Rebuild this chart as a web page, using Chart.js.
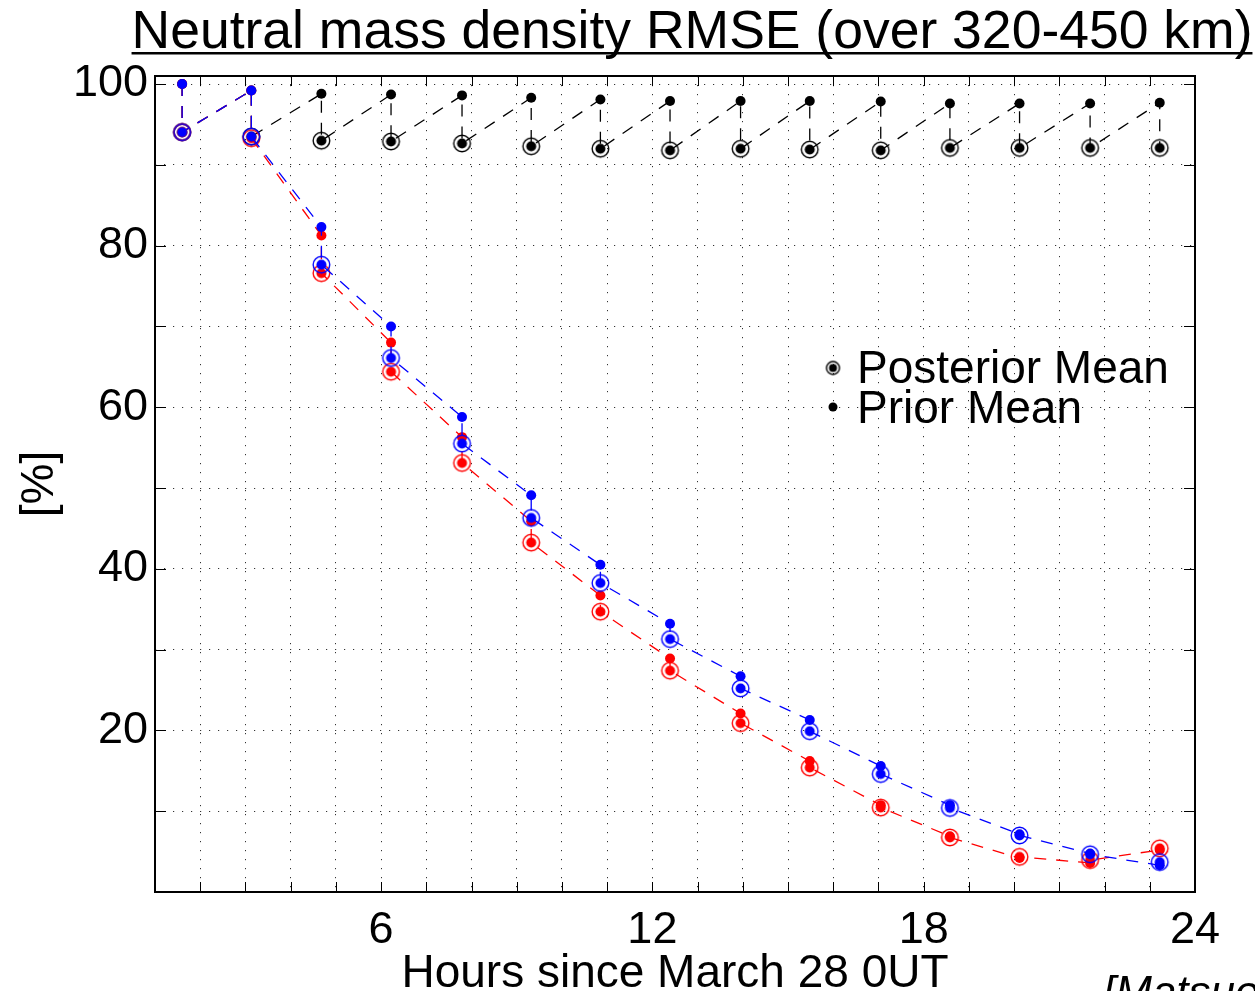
<!DOCTYPE html>
<html>
<head>
<meta charset="utf-8">
<script src="https://cdn.jsdelivr.net/npm/chart.js"></script>
<style>
  html, body { margin: 0; padding: 0; background: #fff; }
</style>
</head>
<body>
<canvas id="rmse" width="1255" height="991"></canvas>
<script>
// assimilation cycle times (hours since March 28 0UT)
const hours = [1.6, 3.13, 4.68, 6.22, 7.79, 9.32, 10.85, 12.39, 13.95, 15.48, 17.05, 18.58, 20.12, 21.68, 23.22];

// RMSE [%] prior / posterior for each run
const blackPrior = [100.0, 99.2, 98.8, 98.7, 98.6, 98.3, 98.1, 97.9, 97.9, 97.9, 97.85, 97.6, 97.6, 97.6, 97.7];
const blackPost  = [94.05, 93.5, 93.0, 92.9, 92.65, 92.3, 92.0, 91.8, 92.0, 91.9, 91.8, 92.1, 92.1, 92.1, 92.1];
const bluePrior  = [100.0, 99.2, 82.3, 70.0, 58.8, 49.1, 40.5, 33.2, 26.7, 21.3, 15.6, 10.75, 7.15, 4.75, 3.3];
const bluePost   = [94.05, 93.5, 77.65, 66.1, 55.5, 46.3, 38.25, 31.3, 25.2, 19.9, 14.6, 10.4, 7.0, 4.67, 3.7];
const redPrior   = [100.0, 99.2, 81.25, 68.0, 56.3, 45.9, 36.7, 28.9, 22.1, 16.2, 10.75, 6.9, 4.2, 3.6, 5.2];
const redPost    = [94.05, 93.3, 76.6, 64.4, 53.1, 43.25, 34.7, 27.4, 20.9, 15.4, 10.45, 6.75, 4.35, 3.95, 5.4];

const xTickLabels = [6, 12, 18, 24];
const yTickLabels = [20, 40, 60, 80, 100];

const FONT = 'Liberation Sans, Arial, Helvetica, sans-serif';

// posterior marker: open ring with a dot inside
function ringDot(color, ringR, dotR) {
  const c = document.createElement('canvas');
  const s = Math.ceil(ringR * 2 + 4);
  c.width = s; c.height = s;
  const g = c.getContext('2d');
  g.strokeStyle = color;
  g.lineWidth = 1.4;
  g.beginPath(); g.arc(s / 2, s / 2, ringR, 0, Math.PI * 2); g.stroke();
  g.fillStyle = color;
  g.beginPath(); g.arc(s / 2, s / 2, dotR, 0, Math.PI * 2); g.fill();
  return c;
}

function pts(vals) {
  return vals.map((v, i) => ({x: hours[i], y: v}));
}

// prior -> posterior -> next prior ... as one dashed path
function zigzag(prior, post) {
  const out = [];
  hours.forEach((h, i) => {
    out.push({x: h, y: prior[i]});
    out.push({x: h, y: post[i]});
  });
  return out;
}

function runSets(color, prior, post) {
  return [
    {data: pts(post), showLine: false, pointStyle: ringDot(color, 8.3, 5), pointRadius: 9, pointHoverRadius: 9},
    {data: pts(prior), showLine: false, pointRadius: 5, pointBackgroundColor: color, pointBorderWidth: 0, pointHoverRadius: 5},
    {data: zigzag(prior, post), showLine: true, borderColor: color, borderWidth: 1.3, borderDash: [12, 10], pointRadius: 0, fill: false, tension: 0}
  ];
}

const datasets = [
  ...runSets('#0000ff', bluePrior, bluePost),
  ...runSets('#ff0000', redPrior, redPost),
  ...runSets('#000000', blackPrior, blackPost)
];

const decor = {
  id: 'decor',
  afterDraw(chart) {
    const ctx = chart.ctx;
    const a = chart.chartArea;
    const xs = chart.scales.x, ys = chart.scales.y;
    ctx.save();
    ctx.strokeStyle = '#000';
    ctx.lineWidth = 1;
    // inward tick marks
    ctx.beginPath();
    for (let h = 1; h <= 24; h++) {
      const px = Math.round(xs.getPixelForValue(h)) + 0.5;
      ctx.moveTo(px, a.bottom); ctx.lineTo(px, a.bottom - 10);
      ctx.moveTo(px, a.top); ctx.lineTo(px, a.top + 10);
    }
    for (let v = 10; v <= 100; v += 10) {
      const py = Math.round(ys.getPixelForValue(v)) + 0.5;
      ctx.moveTo(a.left, py); ctx.lineTo(a.left + 11, py);
      ctx.moveTo(a.right, py); ctx.lineTo(a.right - 11, py);
    }
    ctx.stroke();
    // box
    ctx.lineWidth = 2;
    ctx.strokeRect(a.left, a.top, a.right - a.left, a.bottom - a.top);

    ctx.fillStyle = '#000';
    // title with underline
    ctx.font = '53.5px ' + FONT;
    ctx.textAlign = 'left';
    ctx.textBaseline = 'alphabetic';
    const title = 'Neutral mass density RMSE (over 320-450 km)';
    const tw = ctx.measureText(title).width;
    const tx = 692 - tw / 2;
    ctx.fillText(title, tx, 48);
    ctx.fillRect(tx, 52, tw, 2.5);

    // x axis title
    ctx.font = '46px ' + FONT;
    ctx.textAlign = 'center';
    ctx.fillText('Hours since March 28 0UT', (a.left + a.right) / 2, 987);

    // y axis title
    ctx.save();
    ctx.translate(53, (a.top + a.bottom) / 2);
    ctx.rotate(-Math.PI / 2);
    ctx.fillText('[%]', 0, 0);
    ctx.restore();

    // citation (runs off the page)
    ctx.font = 'italic 44px ' + FONT;
    ctx.textAlign = 'left';
    ctx.fillText('[Matsuo et al., 2012]', 1103, 1007);

    // legend
    ctx.drawImage(ringDot('#000', 6.5, 4), 833 - 8.5, 368 - 8.5);
    ctx.beginPath(); ctx.arc(833, 407, 4.5, 0, Math.PI * 2); ctx.fill();
    ctx.font = '46px ' + FONT;
    ctx.fillText('Posterior Mean', 857, 383);
    ctx.fillText('Prior Mean', 857, 423);
    ctx.restore();
  }
};

new Chart(document.getElementById('rmse'), {
  type: 'scatter',
  data: {datasets: datasets},
  options: {
    responsive: false,
    devicePixelRatio: 1,
    animation: false,
    events: [],
    layout: {padding: {top: 76, right: 60, left: 0, bottom: 0}},
    plugins: {legend: {display: false}, tooltip: {enabled: false}, title: {display: false}},
    scales: {
      x: {
        type: 'linear', min: 1, max: 24,
        afterFit: s => { s.height = 99; },
        ticks: {
          stepSize: 1, autoSkip: false, maxRotation: 0, includeBounds: false,
          color: '#000', font: {family: FONT, size: 45}, padding: 12,
          callback: v => xTickLabels.includes(v) ? String(v) : ''
        },
        grid: {color: '#333', lineWidth: 1, drawTicks: false},
        border: {display: false, dash: [1.2, 7.8]}
      },
      y: {
        type: 'linear', min: 0, max: 101,
        afterFit: s => { s.width = 155; },
        ticks: {
          stepSize: 10, autoSkip: false, includeBounds: false,
          color: '#000', font: {family: FONT, size: 45}, padding: 7,
          callback: v => yTickLabels.includes(v) ? String(v) : ''
        },
        grid: {color: '#333', lineWidth: 1, drawTicks: false},
        border: {display: false, dash: [1.2, 7.8]}
      }
    }
  },
  plugins: [decor]
});
</script>
</body>
</html>
